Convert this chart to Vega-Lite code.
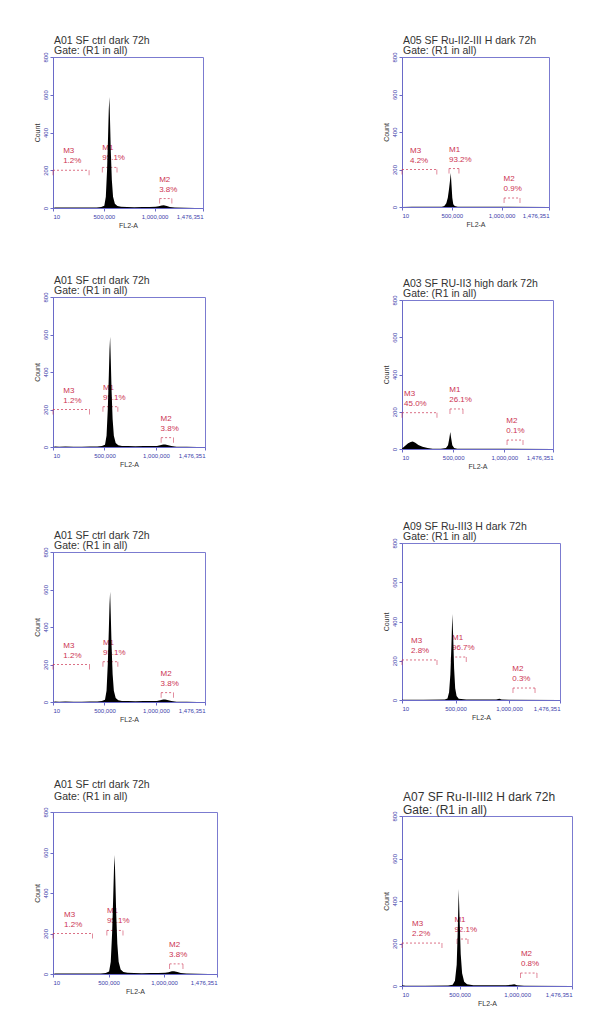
{
  "$schema": "https://vega.github.io/schema/vega-lite/v6.json",
  "background": "white",
  "padding": {"left": 32, "top": 35, "right": 5, "bottom": 5},
  "config": {
    "font": "Liberation Sans",
    "view": {"stroke": "#7b7bd0", "strokeWidth": 1},
    "axis": {"grid": false, "domainColor": "#6a6ac8", "tickColor": "#6a6ac8", "tickSize": 3, "labelFontSize": 6, "labelColor": "#3c3caa", "titleFontSize": 7, "titleFontWeight": "normal", "titleColor": "#333333", "labelPadding": 2, "titlePadding": 2, "labelOverlap": false, "tickCount": 10},
    "axisY": {"labelAngle": 270},
    "title": {"anchor": "start", "fontSize": 10.5, "fontWeight": "normal", "color": "#333333", "offset": -5, "lineHeight": 10.5, "dx": 1, "frame": "group"}
  },
  "datasets": {
    "ctrl": [
      {"fl2": 10, "count": 0}, {"fl2": 20000, "count": 3}, {"fl2": 60000, "count": 2}, {"fl2": 120000, "count": 3}, {"fl2": 200000, "count": 2}, {"fl2": 280000, "count": 2}, {"fl2": 360000, "count": 3}, {"fl2": 430000, "count": 3}, {"fl2": 475000, "count": 5}, {"fl2": 505000, "count": 12}, {"fl2": 520000, "count": 60}, {"fl2": 532000, "count": 200}, {"fl2": 542000, "count": 380}, {"fl2": 549000, "count": 520}, {"fl2": 555000, "count": 588}, {"fl2": 561000, "count": 470}, {"fl2": 569000, "count": 300}, {"fl2": 579000, "count": 150}, {"fl2": 591000, "count": 60}, {"fl2": 609000, "count": 22}, {"fl2": 634000, "count": 10}, {"fl2": 670000, "count": 6}, {"fl2": 730000, "count": 5}, {"fl2": 800000, "count": 4}, {"fl2": 880000, "count": 5}, {"fl2": 950000, "count": 5}, {"fl2": 1010000, "count": 6}, {"fl2": 1040000, "count": 9}, {"fl2": 1070000, "count": 13}, {"fl2": 1090000, "count": 14}, {"fl2": 1120000, "count": 10}, {"fl2": 1150000, "count": 5}, {"fl2": 1200000, "count": 2}, {"fl2": 1300000, "count": 1}, {"fl2": 1400000, "count": 0}, {"fl2": 1476351, "count": 0}
    ],
    "p2": [
      {"fl2": 10, "count": 0}, {"fl2": 100000, "count": 1}, {"fl2": 300000, "count": 1}, {"fl2": 400000, "count": 2}, {"fl2": 425000, "count": 6}, {"fl2": 445000, "count": 20}, {"fl2": 460000, "count": 50}, {"fl2": 472000, "count": 95}, {"fl2": 482000, "count": 140}, {"fl2": 490000, "count": 181}, {"fl2": 497000, "count": 120}, {"fl2": 505000, "count": 50}, {"fl2": 515000, "count": 15}, {"fl2": 530000, "count": 5}, {"fl2": 560000, "count": 2}, {"fl2": 700000, "count": 1}, {"fl2": 1000000, "count": 1}, {"fl2": 1476351, "count": 0}
    ],
    "p4": [
      {"fl2": 10, "count": 3}, {"fl2": 20000, "count": 12}, {"fl2": 40000, "count": 22}, {"fl2": 60000, "count": 31}, {"fl2": 85000, "count": 38}, {"fl2": 105000, "count": 40}, {"fl2": 130000, "count": 33}, {"fl2": 160000, "count": 22}, {"fl2": 200000, "count": 12}, {"fl2": 250000, "count": 5}, {"fl2": 300000, "count": 2}, {"fl2": 380000, "count": 2}, {"fl2": 430000, "count": 5}, {"fl2": 450000, "count": 20}, {"fl2": 462000, "count": 55}, {"fl2": 472000, "count": 91}, {"fl2": 480000, "count": 60}, {"fl2": 492000, "count": 20}, {"fl2": 510000, "count": 6}, {"fl2": 540000, "count": 2}, {"fl2": 700000, "count": 1}, {"fl2": 1000000, "count": 1}, {"fl2": 1476351, "count": 0}
    ],
    "p6": [
      {"fl2": 10, "count": 1}, {"fl2": 200000, "count": 1}, {"fl2": 400000, "count": 2}, {"fl2": 425000, "count": 8}, {"fl2": 440000, "count": 40}, {"fl2": 452000, "count": 130}, {"fl2": 462000, "count": 280}, {"fl2": 470000, "count": 438}, {"fl2": 478000, "count": 330}, {"fl2": 487000, "count": 160}, {"fl2": 497000, "count": 60}, {"fl2": 510000, "count": 20}, {"fl2": 530000, "count": 6}, {"fl2": 600000, "count": 3}, {"fl2": 750000, "count": 2}, {"fl2": 880000, "count": 3}, {"fl2": 910000, "count": 6}, {"fl2": 930000, "count": 3}, {"fl2": 1000000, "count": 1}, {"fl2": 1476351, "count": 0}
    ],
    "p8": [
      {"fl2": 10, "count": 4}, {"fl2": 30000, "count": 1}, {"fl2": 200000, "count": 1}, {"fl2": 400000, "count": 2}, {"fl2": 440000, "count": 6}, {"fl2": 460000, "count": 25}, {"fl2": 475000, "count": 100}, {"fl2": 485000, "count": 280}, {"fl2": 492000, "count": 456}, {"fl2": 500000, "count": 320}, {"fl2": 510000, "count": 150}, {"fl2": 522000, "count": 60}, {"fl2": 540000, "count": 20}, {"fl2": 565000, "count": 8}, {"fl2": 620000, "count": 4}, {"fl2": 750000, "count": 3}, {"fl2": 900000, "count": 3}, {"fl2": 950000, "count": 6}, {"fl2": 975000, "count": 8}, {"fl2": 1000000, "count": 3}, {"fl2": 1060000, "count": 1}, {"fl2": 1476351, "count": 0}
    ],
    "markers": [
      {"panel": "ctrl", "name": "M3", "pct": "1.2%", "x1": 10, "x2": 355000, "lx": 100000, "y": 200},
      {"panel": "ctrl", "name": "M1", "pct": "95.1%", "x1": 485000, "x2": 630000, "lx": 485000, "y": 215},
      {"panel": "ctrl", "name": "M2", "pct": "3.8%", "x1": 1050000, "x2": 1170000, "lx": 1045000, "y": 50},
      {"panel": "p2", "name": "M3", "pct": "4.2%", "x1": 10, "x2": 350000, "lx": 80000, "y": 200},
      {"panel": "p2", "name": "M1", "pct": "93.2%", "x1": 472000, "x2": 572000, "lx": 472000, "y": 205},
      {"panel": "p2", "name": "M2", "pct": "0.9%", "x1": 1025000, "x2": 1185000, "lx": 1020000, "y": 48},
      {"panel": "p4", "name": "M3", "pct": "45.0%", "x1": 10, "x2": 342000, "lx": 20000, "y": 195},
      {"panel": "p4", "name": "M1", "pct": "26.1%", "x1": 469000, "x2": 596000, "lx": 462000, "y": 215},
      {"panel": "p4", "name": "M2", "pct": "0.1%", "x1": 1027000, "x2": 1183000, "lx": 1020000, "y": 48},
      {"panel": "p6", "name": "M3", "pct": "2.8%", "x1": 10, "x2": 327000, "lx": 84000, "y": 204},
      {"panel": "p6", "name": "M1", "pct": "96.7%", "x1": 460000, "x2": 600000, "lx": 467000, "y": 219},
      {"panel": "p6", "name": "M2", "pct": "0.3%", "x1": 1037000, "x2": 1243000, "lx": 1030000, "y": 61},
      {"panel": "p8", "name": "M3", "pct": "2.2%", "x1": 10, "x2": 347000, "lx": 87000, "y": 202},
      {"panel": "p8", "name": "M1", "pct": "92.1%", "x1": 478000, "x2": 573000, "lx": 455000, "y": 221},
      {"panel": "p8", "name": "M2", "pct": "0.8%", "x1": 1030000, "x2": 1172000, "lx": 1033000, "y": 61}
    ]
  },
  "hconcat": [
    {
      "vconcat": [
        {
          "vconcat": [
            {
              "width": 150, "height": 151,
              "title": {"text": ["A01 SF ctrl dark 72h", "Gate: (R1 in all)"]},
              "layer": [
                {"data": {"name": "markers"}, "transform": [{"filter": "datum.panel === 'ctrl'"}], "mark": {"type": "rule", "color": "#cc3352", "strokeWidth": 0.7, "strokeDash": [2, 2]}, "encoding": {"x": {"field": "x1", "type": "quantitative", "title": "FL2-A", "scale": {"domain": [10, 1476351], "nice": false, "zero": false}}, "x2": {"field": "x2"}, "y": {"field": "y", "type": "quantitative", "title": "Count", "scale": {"domain": [0, 800], "nice": false}}}},
                {"data": {"name": "markers"}, "transform": [{"filter": "datum.panel === 'ctrl'"}, {"fold": ["x1", "x2"], "as": ["end", "xe"]}], "mark": {"type": "tick", "orient": "vertical", "size": 5, "thickness": 0.8, "yOffset": 2.5, "color": "#cc3352"}, "encoding": {"x": {"field": "xe", "type": "quantitative", "title": "FL2-A", "scale": {"domain": [10, 1476351], "nice": false, "zero": false}}, "y": {"field": "y", "type": "quantitative", "title": "Count", "scale": {"domain": [0, 800], "nice": false}}}},
                {"data": {"name": "markers"}, "transform": [{"filter": "datum.panel === 'ctrl'"}], "mark": {"type": "text", "align": "left", "baseline": "middle", "dy": -19, "fontSize": 8, "color": "#cc3352"}, "encoding": {"x": {"field": "lx", "type": "quantitative", "title": "FL2-A", "scale": {"domain": [10, 1476351], "nice": false, "zero": false}}, "y": {"field": "y", "type": "quantitative", "title": "Count", "scale": {"domain": [0, 800], "nice": false}}, "text": {"field": "name"}}},
                {"data": {"name": "markers"}, "transform": [{"filter": "datum.panel === 'ctrl'"}], "mark": {"type": "text", "align": "left", "baseline": "middle", "dy": -9, "fontSize": 8, "color": "#cc3352"}, "encoding": {"x": {"field": "lx", "type": "quantitative", "title": "FL2-A", "scale": {"domain": [10, 1476351], "nice": false, "zero": false}}, "y": {"field": "y", "type": "quantitative", "title": "Count", "scale": {"domain": [0, 800], "nice": false}}, "text": {"field": "pct"}}},
                {"data": {"name": "ctrl"}, "mark": {"type": "area", "color": "#000000", "interpolate": "linear"}, "encoding": {"x": {"field": "fl2", "type": "quantitative", "title": "FL2-A", "scale": {"domain": [10, 1476351], "nice": false, "zero": false}, "axis": {"values": [10, 500000, 1000000, 1476351], "format": ",d", "labelOverlap": false, "tickCount": 10}}, "y": {"field": "count", "type": "quantitative", "title": "Count", "scale": {"domain": [0, 800], "nice": false}, "axis": {"values": [0, 200, 400, 600, 800], "labelOverlap": false, "tickCount": 10}}}}
              ]
            },
            {
              "width": 152, "height": 150,
              "title": {"text": ["A01 SF ctrl dark 72h", "Gate: (R1 in all)"]},
              "layer": [
                {"data": {"name": "markers"}, "transform": [{"filter": "datum.panel === 'ctrl'"}], "mark": {"type": "rule", "color": "#cc3352", "strokeWidth": 0.7, "strokeDash": [2, 2]}, "encoding": {"x": {"field": "x1", "type": "quantitative", "title": "FL2-A", "scale": {"domain": [10, 1476351], "nice": false, "zero": false}}, "x2": {"field": "x2"}, "y": {"field": "y", "type": "quantitative", "title": "Count", "scale": {"domain": [0, 800], "nice": false}}}},
                {"data": {"name": "markers"}, "transform": [{"filter": "datum.panel === 'ctrl'"}, {"fold": ["x1", "x2"], "as": ["end", "xe"]}], "mark": {"type": "tick", "orient": "vertical", "size": 5, "thickness": 0.8, "yOffset": 2.5, "color": "#cc3352"}, "encoding": {"x": {"field": "xe", "type": "quantitative", "title": "FL2-A", "scale": {"domain": [10, 1476351], "nice": false, "zero": false}}, "y": {"field": "y", "type": "quantitative", "title": "Count", "scale": {"domain": [0, 800], "nice": false}}}},
                {"data": {"name": "markers"}, "transform": [{"filter": "datum.panel === 'ctrl'"}], "mark": {"type": "text", "align": "left", "baseline": "middle", "dy": -19, "fontSize": 8, "color": "#cc3352"}, "encoding": {"x": {"field": "lx", "type": "quantitative", "title": "FL2-A", "scale": {"domain": [10, 1476351], "nice": false, "zero": false}}, "y": {"field": "y", "type": "quantitative", "title": "Count", "scale": {"domain": [0, 800], "nice": false}}, "text": {"field": "name"}}},
                {"data": {"name": "markers"}, "transform": [{"filter": "datum.panel === 'ctrl'"}], "mark": {"type": "text", "align": "left", "baseline": "middle", "dy": -9, "fontSize": 8, "color": "#cc3352"}, "encoding": {"x": {"field": "lx", "type": "quantitative", "title": "FL2-A", "scale": {"domain": [10, 1476351], "nice": false, "zero": false}}, "y": {"field": "y", "type": "quantitative", "title": "Count", "scale": {"domain": [0, 800], "nice": false}}, "text": {"field": "pct"}}},
                {"data": {"name": "ctrl"}, "mark": {"type": "area", "color": "#000000", "interpolate": "linear"}, "encoding": {"x": {"field": "fl2", "type": "quantitative", "title": "FL2-A", "scale": {"domain": [10, 1476351], "nice": false, "zero": false}, "axis": {"values": [10, 500000, 1000000, 1476351], "format": ",d", "labelOverlap": false, "tickCount": 10}}, "y": {"field": "count", "type": "quantitative", "title": "Count", "scale": {"domain": [0, 800], "nice": false}, "axis": {"values": [0, 200, 400, 600, 800], "labelOverlap": false, "tickCount": 10}}}}
              ]
            }
          ],
          "spacing": 46
        },
        {
          "vconcat": [
            {
              "width": 152, "height": 150,
              "title": {"text": ["A01 SF ctrl dark 72h", "Gate: (R1 in all)"]},
              "layer": [
                {"data": {"name": "markers"}, "transform": [{"filter": "datum.panel === 'ctrl'"}], "mark": {"type": "rule", "color": "#cc3352", "strokeWidth": 0.7, "strokeDash": [2, 2]}, "encoding": {"x": {"field": "x1", "type": "quantitative", "title": "FL2-A", "scale": {"domain": [10, 1476351], "nice": false, "zero": false}}, "x2": {"field": "x2"}, "y": {"field": "y", "type": "quantitative", "title": "Count", "scale": {"domain": [0, 800], "nice": false}}}},
                {"data": {"name": "markers"}, "transform": [{"filter": "datum.panel === 'ctrl'"}, {"fold": ["x1", "x2"], "as": ["end", "xe"]}], "mark": {"type": "tick", "orient": "vertical", "size": 5, "thickness": 0.8, "yOffset": 2.5, "color": "#cc3352"}, "encoding": {"x": {"field": "xe", "type": "quantitative", "title": "FL2-A", "scale": {"domain": [10, 1476351], "nice": false, "zero": false}}, "y": {"field": "y", "type": "quantitative", "title": "Count", "scale": {"domain": [0, 800], "nice": false}}}},
                {"data": {"name": "markers"}, "transform": [{"filter": "datum.panel === 'ctrl'"}], "mark": {"type": "text", "align": "left", "baseline": "middle", "dy": -19, "fontSize": 8, "color": "#cc3352"}, "encoding": {"x": {"field": "lx", "type": "quantitative", "title": "FL2-A", "scale": {"domain": [10, 1476351], "nice": false, "zero": false}}, "y": {"field": "y", "type": "quantitative", "title": "Count", "scale": {"domain": [0, 800], "nice": false}}, "text": {"field": "name"}}},
                {"data": {"name": "markers"}, "transform": [{"filter": "datum.panel === 'ctrl'"}], "mark": {"type": "text", "align": "left", "baseline": "middle", "dy": -9, "fontSize": 8, "color": "#cc3352"}, "encoding": {"x": {"field": "lx", "type": "quantitative", "title": "FL2-A", "scale": {"domain": [10, 1476351], "nice": false, "zero": false}}, "y": {"field": "y", "type": "quantitative", "title": "Count", "scale": {"domain": [0, 800], "nice": false}}, "text": {"field": "pct"}}},
                {"data": {"name": "ctrl"}, "mark": {"type": "area", "color": "#000000", "interpolate": "linear"}, "encoding": {"x": {"field": "fl2", "type": "quantitative", "title": "FL2-A", "scale": {"domain": [10, 1476351], "nice": false, "zero": false}, "axis": {"values": [10, 500000, 1000000, 1476351], "format": ",d", "labelOverlap": false, "tickCount": 10}}, "y": {"field": "count", "type": "quantitative", "title": "Count", "scale": {"domain": [0, 800], "nice": false}, "axis": {"values": [0, 200, 400, 600, 800], "labelOverlap": false, "tickCount": 10}}}}
              ]
            },
            {
              "width": 164, "height": 162,
              "title": {"text": ["A01 SF ctrl dark 72h", "Gate: (R1 in all)"], "fontSize": 10.5, "lineHeight": 12, "offset": 4},
              "layer": [
                {"data": {"name": "markers"}, "transform": [{"filter": "datum.panel === 'ctrl'"}], "mark": {"type": "rule", "color": "#cc3352", "strokeWidth": 0.7, "strokeDash": [2, 2]}, "encoding": {"x": {"field": "x1", "type": "quantitative", "title": "FL2-A", "scale": {"domain": [10, 1476351], "nice": false, "zero": false}}, "x2": {"field": "x2"}, "y": {"field": "y", "type": "quantitative", "title": "Count", "scale": {"domain": [0, 800], "nice": false}}}},
                {"data": {"name": "markers"}, "transform": [{"filter": "datum.panel === 'ctrl'"}, {"fold": ["x1", "x2"], "as": ["end", "xe"]}], "mark": {"type": "tick", "orient": "vertical", "size": 5, "thickness": 0.8, "yOffset": 2.5, "color": "#cc3352"}, "encoding": {"x": {"field": "xe", "type": "quantitative", "title": "FL2-A", "scale": {"domain": [10, 1476351], "nice": false, "zero": false}}, "y": {"field": "y", "type": "quantitative", "title": "Count", "scale": {"domain": [0, 800], "nice": false}}}},
                {"data": {"name": "markers"}, "transform": [{"filter": "datum.panel === 'ctrl'"}], "mark": {"type": "text", "align": "left", "baseline": "middle", "dy": -19, "fontSize": 8, "color": "#cc3352"}, "encoding": {"x": {"field": "lx", "type": "quantitative", "title": "FL2-A", "scale": {"domain": [10, 1476351], "nice": false, "zero": false}}, "y": {"field": "y", "type": "quantitative", "title": "Count", "scale": {"domain": [0, 800], "nice": false}}, "text": {"field": "name"}}},
                {"data": {"name": "markers"}, "transform": [{"filter": "datum.panel === 'ctrl'"}], "mark": {"type": "text", "align": "left", "baseline": "middle", "dy": -9, "fontSize": 8, "color": "#cc3352"}, "encoding": {"x": {"field": "lx", "type": "quantitative", "title": "FL2-A", "scale": {"domain": [10, 1476351], "nice": false, "zero": false}}, "y": {"field": "y", "type": "quantitative", "title": "Count", "scale": {"domain": [0, 800], "nice": false}}, "text": {"field": "pct"}}},
                {"data": {"name": "ctrl"}, "mark": {"type": "area", "color": "#000000", "interpolate": "linear"}, "encoding": {"x": {"field": "fl2", "type": "quantitative", "title": "FL2-A", "scale": {"domain": [10, 1476351], "nice": false, "zero": false}, "axis": {"values": [10, 500000, 1000000, 1476351], "format": ",d", "labelOverlap": false, "tickCount": 10}}, "y": {"field": "count", "type": "quantitative", "title": "Count", "scale": {"domain": [0, 800], "nice": false}, "axis": {"values": [0, 200, 400, 600, 800], "labelOverlap": false, "tickCount": 10}}}}
              ]
            }
          ],
          "spacing": 56
        }
      ],
      "spacing": 62
    },
    {
      "vconcat": [
        {
          "vconcat": [
            {
              "width": 147, "height": 150,
              "title": {"text": ["A05 SF Ru-II2-III H dark 72h", "Gate: (R1 in all)"]},
              "layer": [
                {"data": {"name": "markers"}, "transform": [{"filter": "datum.panel === 'p2'"}], "mark": {"type": "rule", "color": "#cc3352", "strokeWidth": 0.7, "strokeDash": [2, 2]}, "encoding": {"x": {"field": "x1", "type": "quantitative", "title": "FL2-A", "scale": {"domain": [10, 1476351], "nice": false, "zero": false}}, "x2": {"field": "x2"}, "y": {"field": "y", "type": "quantitative", "title": "Count", "scale": {"domain": [0, 800], "nice": false}}}},
                {"data": {"name": "markers"}, "transform": [{"filter": "datum.panel === 'p2'"}, {"fold": ["x1", "x2"], "as": ["end", "xe"]}], "mark": {"type": "tick", "orient": "vertical", "size": 5, "thickness": 0.8, "yOffset": 2.5, "color": "#cc3352"}, "encoding": {"x": {"field": "xe", "type": "quantitative", "title": "FL2-A", "scale": {"domain": [10, 1476351], "nice": false, "zero": false}}, "y": {"field": "y", "type": "quantitative", "title": "Count", "scale": {"domain": [0, 800], "nice": false}}}},
                {"data": {"name": "markers"}, "transform": [{"filter": "datum.panel === 'p2'"}], "mark": {"type": "text", "align": "left", "baseline": "middle", "dy": -19, "fontSize": 8, "color": "#cc3352"}, "encoding": {"x": {"field": "lx", "type": "quantitative", "title": "FL2-A", "scale": {"domain": [10, 1476351], "nice": false, "zero": false}}, "y": {"field": "y", "type": "quantitative", "title": "Count", "scale": {"domain": [0, 800], "nice": false}}, "text": {"field": "name"}}},
                {"data": {"name": "markers"}, "transform": [{"filter": "datum.panel === 'p2'"}], "mark": {"type": "text", "align": "left", "baseline": "middle", "dy": -9, "fontSize": 8, "color": "#cc3352"}, "encoding": {"x": {"field": "lx", "type": "quantitative", "title": "FL2-A", "scale": {"domain": [10, 1476351], "nice": false, "zero": false}}, "y": {"field": "y", "type": "quantitative", "title": "Count", "scale": {"domain": [0, 800], "nice": false}}, "text": {"field": "pct"}}},
                {"data": {"name": "p2"}, "mark": {"type": "area", "color": "#000000", "interpolate": "linear"}, "encoding": {"x": {"field": "fl2", "type": "quantitative", "title": "FL2-A", "scale": {"domain": [10, 1476351], "nice": false, "zero": false}, "axis": {"values": [10, 500000, 1000000, 1476351], "format": ",d", "labelOverlap": false, "tickCount": 10}}, "y": {"field": "count", "type": "quantitative", "title": "Count", "scale": {"domain": [0, 800], "nice": false}, "axis": {"values": [0, 200, 400, 600, 800], "labelOverlap": false, "tickCount": 10}}}}
              ]
            },
            {
              "width": 151, "height": 149,
              "title": {"text": ["A03 SF RU-II3 high dark 72h", "Gate: (R1 in all)"]},
              "layer": [
                {"data": {"name": "markers"}, "transform": [{"filter": "datum.panel === 'p4'"}], "mark": {"type": "rule", "color": "#cc3352", "strokeWidth": 0.7, "strokeDash": [2, 2]}, "encoding": {"x": {"field": "x1", "type": "quantitative", "title": "FL2-A", "scale": {"domain": [10, 1476351], "nice": false, "zero": false}}, "x2": {"field": "x2"}, "y": {"field": "y", "type": "quantitative", "title": "Count", "scale": {"domain": [0, 800], "nice": false}}}},
                {"data": {"name": "markers"}, "transform": [{"filter": "datum.panel === 'p4'"}, {"fold": ["x1", "x2"], "as": ["end", "xe"]}], "mark": {"type": "tick", "orient": "vertical", "size": 5, "thickness": 0.8, "yOffset": 2.5, "color": "#cc3352"}, "encoding": {"x": {"field": "xe", "type": "quantitative", "title": "FL2-A", "scale": {"domain": [10, 1476351], "nice": false, "zero": false}}, "y": {"field": "y", "type": "quantitative", "title": "Count", "scale": {"domain": [0, 800], "nice": false}}}},
                {"data": {"name": "markers"}, "transform": [{"filter": "datum.panel === 'p4'"}], "mark": {"type": "text", "align": "left", "baseline": "middle", "dy": -19, "fontSize": 8, "color": "#cc3352"}, "encoding": {"x": {"field": "lx", "type": "quantitative", "title": "FL2-A", "scale": {"domain": [10, 1476351], "nice": false, "zero": false}}, "y": {"field": "y", "type": "quantitative", "title": "Count", "scale": {"domain": [0, 800], "nice": false}}, "text": {"field": "name"}}},
                {"data": {"name": "markers"}, "transform": [{"filter": "datum.panel === 'p4'"}], "mark": {"type": "text", "align": "left", "baseline": "middle", "dy": -9, "fontSize": 8, "color": "#cc3352"}, "encoding": {"x": {"field": "lx", "type": "quantitative", "title": "FL2-A", "scale": {"domain": [10, 1476351], "nice": false, "zero": false}}, "y": {"field": "y", "type": "quantitative", "title": "Count", "scale": {"domain": [0, 800], "nice": false}}, "text": {"field": "pct"}}},
                {"data": {"name": "p4"}, "mark": {"type": "area", "color": "#000000", "interpolate": "linear"}, "encoding": {"x": {"field": "fl2", "type": "quantitative", "title": "FL2-A", "scale": {"domain": [10, 1476351], "nice": false, "zero": false}, "axis": {"values": [10, 500000, 1000000, 1476351], "format": ",d", "labelOverlap": false, "tickCount": 10}}, "y": {"field": "count", "type": "quantitative", "title": "Count", "scale": {"domain": [0, 800], "nice": false}, "axis": {"values": [0, 200, 400, 600, 800], "labelOverlap": false, "tickCount": 10}}}}
              ]
            }
          ],
          "spacing": 50
        },
        {
          "vconcat": [
            {
              "width": 158, "height": 157,
              "title": {"text": ["A09 SF Ru-III3 H dark 72h", "Gate: (R1 in all)"]},
              "layer": [
                {"data": {"name": "markers"}, "transform": [{"filter": "datum.panel === 'p6'"}], "mark": {"type": "rule", "color": "#cc3352", "strokeWidth": 0.7, "strokeDash": [2, 2]}, "encoding": {"x": {"field": "x1", "type": "quantitative", "title": "FL2-A", "scale": {"domain": [10, 1476351], "nice": false, "zero": false}}, "x2": {"field": "x2"}, "y": {"field": "y", "type": "quantitative", "title": "Count", "scale": {"domain": [0, 800], "nice": false}}}},
                {"data": {"name": "markers"}, "transform": [{"filter": "datum.panel === 'p6'"}, {"fold": ["x1", "x2"], "as": ["end", "xe"]}], "mark": {"type": "tick", "orient": "vertical", "size": 5, "thickness": 0.8, "yOffset": 2.5, "color": "#cc3352"}, "encoding": {"x": {"field": "xe", "type": "quantitative", "title": "FL2-A", "scale": {"domain": [10, 1476351], "nice": false, "zero": false}}, "y": {"field": "y", "type": "quantitative", "title": "Count", "scale": {"domain": [0, 800], "nice": false}}}},
                {"data": {"name": "markers"}, "transform": [{"filter": "datum.panel === 'p6'"}], "mark": {"type": "text", "align": "left", "baseline": "middle", "dy": -19, "fontSize": 8, "color": "#cc3352"}, "encoding": {"x": {"field": "lx", "type": "quantitative", "title": "FL2-A", "scale": {"domain": [10, 1476351], "nice": false, "zero": false}}, "y": {"field": "y", "type": "quantitative", "title": "Count", "scale": {"domain": [0, 800], "nice": false}}, "text": {"field": "name"}}},
                {"data": {"name": "markers"}, "transform": [{"filter": "datum.panel === 'p6'"}], "mark": {"type": "text", "align": "left", "baseline": "middle", "dy": -9, "fontSize": 8, "color": "#cc3352"}, "encoding": {"x": {"field": "lx", "type": "quantitative", "title": "FL2-A", "scale": {"domain": [10, 1476351], "nice": false, "zero": false}}, "y": {"field": "y", "type": "quantitative", "title": "Count", "scale": {"domain": [0, 800], "nice": false}}, "text": {"field": "pct"}}},
                {"data": {"name": "p6"}, "mark": {"type": "area", "color": "#000000", "interpolate": "linear"}, "encoding": {"x": {"field": "fl2", "type": "quantitative", "title": "FL2-A", "scale": {"domain": [10, 1476351], "nice": false, "zero": false}, "axis": {"values": [10, 500000, 1000000, 1476351], "format": ",d", "labelOverlap": false, "tickCount": 10}}, "y": {"field": "count", "type": "quantitative", "title": "Count", "scale": {"domain": [0, 800], "nice": false}, "axis": {"values": [0, 200, 400, 600, 800], "labelOverlap": false, "tickCount": 10}}}}
              ]
            },
            {
              "width": 170, "height": 170,
              "title": {"text": ["A07 SF Ru-II-III2 H dark 72h", "Gate: (R1 in all)"], "fontSize": 12, "lineHeight": 13, "offset": -6},
              "layer": [
                {"data": {"name": "markers"}, "transform": [{"filter": "datum.panel === 'p8'"}], "mark": {"type": "rule", "color": "#cc3352", "strokeWidth": 0.7, "strokeDash": [2, 2]}, "encoding": {"x": {"field": "x1", "type": "quantitative", "title": "FL2-A", "scale": {"domain": [10, 1476351], "nice": false, "zero": false}}, "x2": {"field": "x2"}, "y": {"field": "y", "type": "quantitative", "title": "Count", "scale": {"domain": [0, 800], "nice": false}}}},
                {"data": {"name": "markers"}, "transform": [{"filter": "datum.panel === 'p8'"}, {"fold": ["x1", "x2"], "as": ["end", "xe"]}], "mark": {"type": "tick", "orient": "vertical", "size": 5, "thickness": 0.8, "yOffset": 2.5, "color": "#cc3352"}, "encoding": {"x": {"field": "xe", "type": "quantitative", "title": "FL2-A", "scale": {"domain": [10, 1476351], "nice": false, "zero": false}}, "y": {"field": "y", "type": "quantitative", "title": "Count", "scale": {"domain": [0, 800], "nice": false}}}},
                {"data": {"name": "markers"}, "transform": [{"filter": "datum.panel === 'p8'"}], "mark": {"type": "text", "align": "left", "baseline": "middle", "dy": -19, "fontSize": 8, "color": "#cc3352"}, "encoding": {"x": {"field": "lx", "type": "quantitative", "title": "FL2-A", "scale": {"domain": [10, 1476351], "nice": false, "zero": false}}, "y": {"field": "y", "type": "quantitative", "title": "Count", "scale": {"domain": [0, 800], "nice": false}}, "text": {"field": "name"}}},
                {"data": {"name": "markers"}, "transform": [{"filter": "datum.panel === 'p8'"}], "mark": {"type": "text", "align": "left", "baseline": "middle", "dy": -9, "fontSize": 8, "color": "#cc3352"}, "encoding": {"x": {"field": "lx", "type": "quantitative", "title": "FL2-A", "scale": {"domain": [10, 1476351], "nice": false, "zero": false}}, "y": {"field": "y", "type": "quantitative", "title": "Count", "scale": {"domain": [0, 800], "nice": false}}, "text": {"field": "pct"}}},
                {"data": {"name": "p8"}, "mark": {"type": "area", "color": "#000000", "interpolate": "linear"}, "encoding": {"x": {"field": "fl2", "type": "quantitative", "title": "FL2-A", "scale": {"domain": [10, 1476351], "nice": false, "zero": false}, "axis": {"values": [10, 500000, 1000000, 1476351], "format": ",d", "labelOverlap": false, "tickCount": 10}}, "y": {"field": "count", "type": "quantitative", "title": "Count", "scale": {"domain": [0, 800], "nice": false}, "axis": {"values": [0, 200, 400, 600, 800], "labelOverlap": false, "tickCount": 10}}}}
              ]
            }
          ],
          "spacing": 69
        }
      ],
      "spacing": 51
    }
  ],
  "spacing": 163
}
